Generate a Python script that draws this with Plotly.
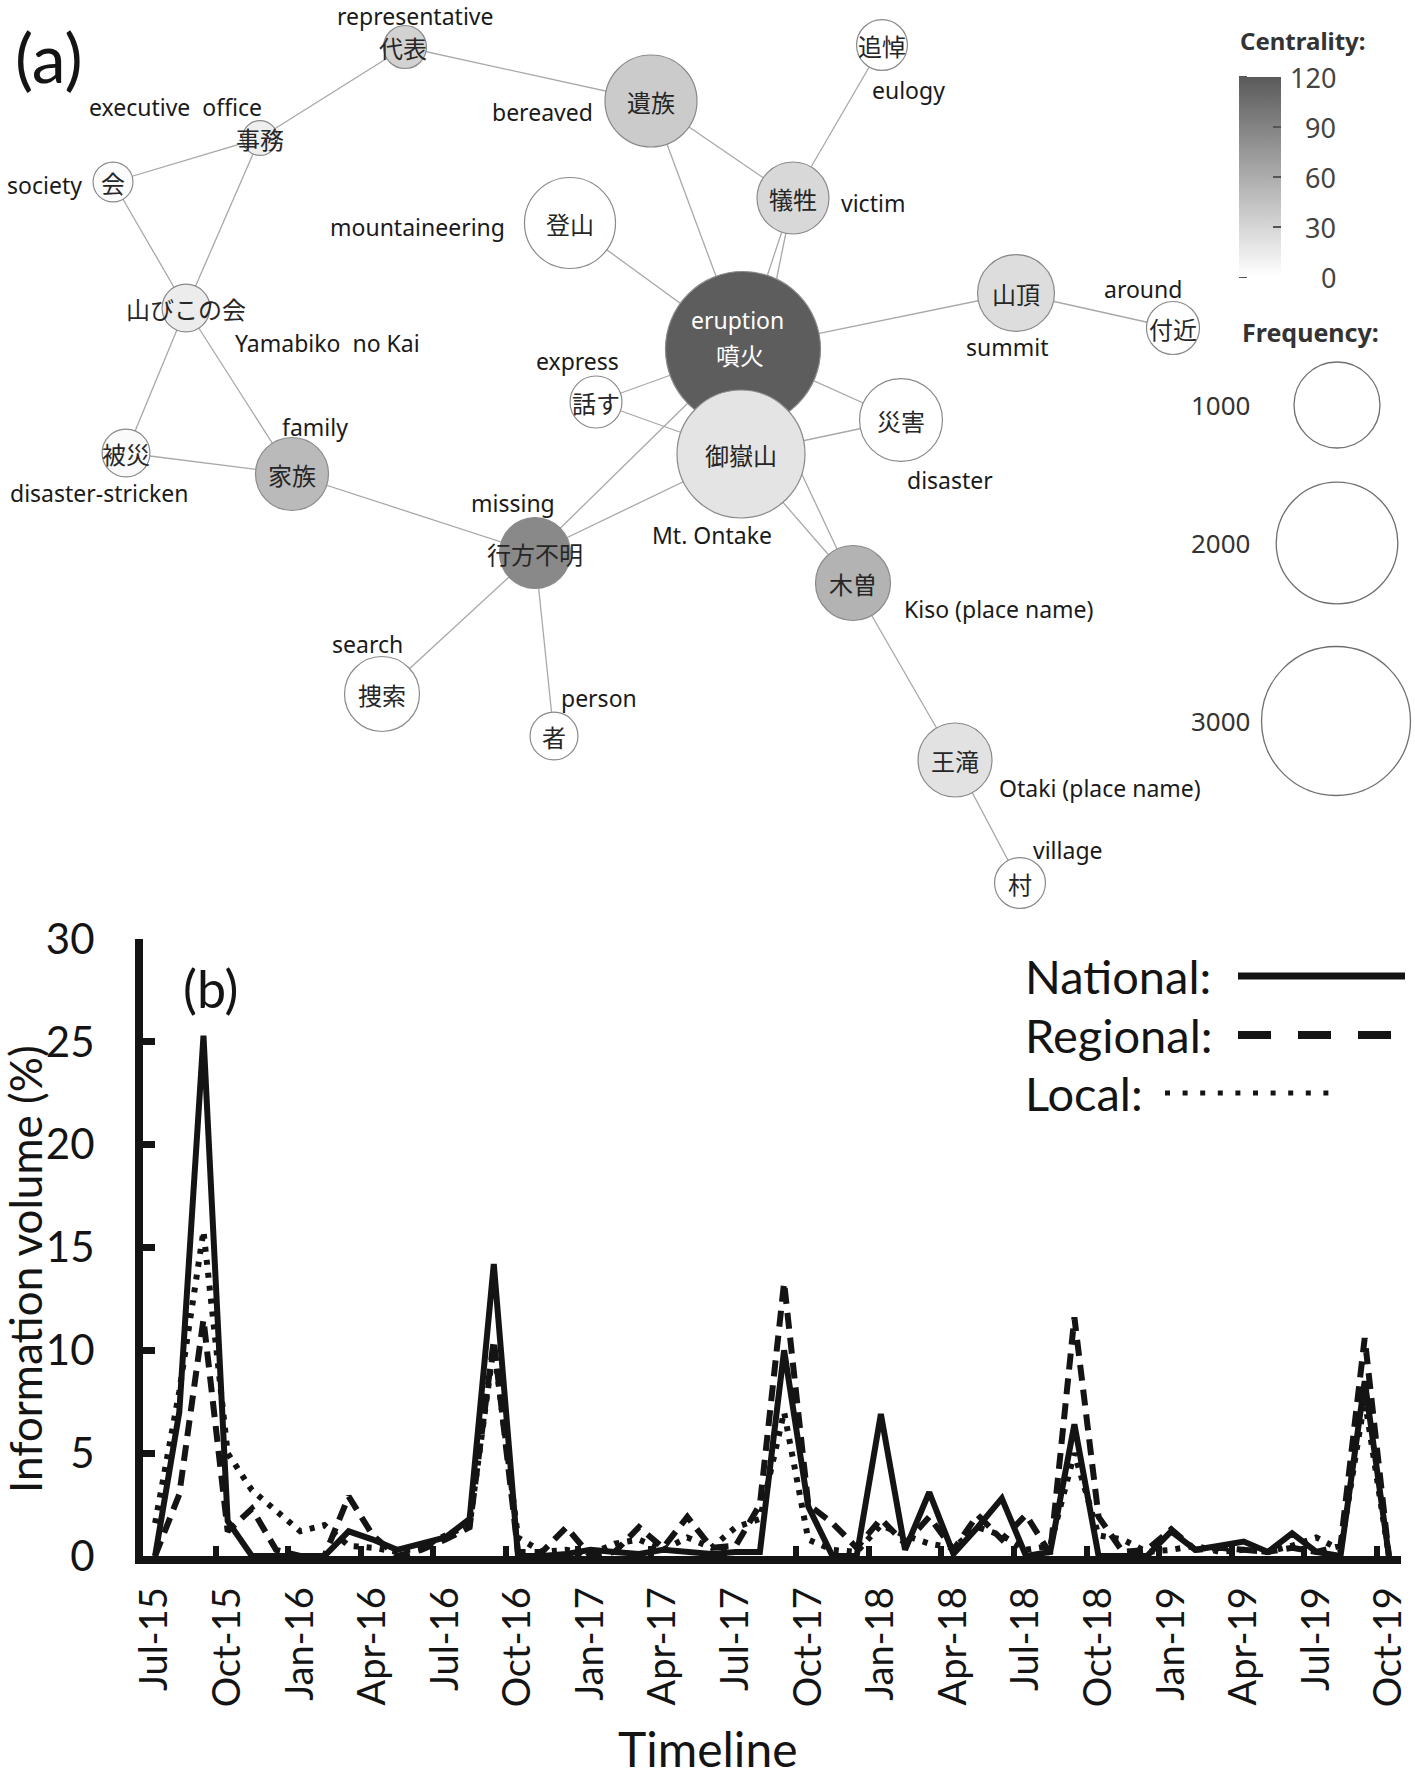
import plotly.graph_objects as go

W, H = 1415, 1780

# ---------------- Panel (b) data ----------------
months = ["Jul-15","Aug-15","Sep-15","Oct-15","Nov-15","Dec-15","Jan-16","Feb-16","Mar-16","Apr-16",
          "May-16","Jun-16","Jul-16","Aug-16","Sep-16","Oct-16","Nov-16","Dec-16","Jan-17","Feb-17",
          "Mar-17","Apr-17","May-17","Jun-17","Jul-17","Aug-17","Sep-17","Oct-17","Nov-17","Dec-17",
          "Jan-18","Feb-18","Mar-18","Apr-18","May-18","Jun-18","Jul-18","Aug-18","Sep-18","Oct-18",
          "Nov-18","Dec-18","Jan-19","Feb-19","Mar-19","Apr-19","May-19","Jun-19","Jul-19","Aug-19",
          "Sep-19","Oct-19"]
tick_labels = ["Jul-15","Oct-15","Jan-16","Apr-16","Jul-16","Oct-16","Jan-17","Apr-17","Jul-17",
               "Oct-17","Jan-18","Apr-18","Jul-18","Oct-18","Jan-19","Apr-19","Jul-19","Oct-19"]
national = [0, 7.0, 25.3, 1.7, 0, 0, 0, 0, 1.2, 0.8,
            0.3, 0.6, 0.9, 1.8, 14.2, 0, 0, 0.1, 0.3, 0.2,
            0.1, 0.3, 0.2, 0.1, 0.2, 0.2, 10.0, 2.4, 0, 0,
            6.9, 0.3, 3.1, 0.1, 1.4, 2.8, 0, 0.2, 6.4, 0,
            0, 0, 1.2, 0.3, 0.5, 0.7, 0.2, 1.1, 0.2, 0,
            8.5, 0]
regional = [0, 3.0, 11.5, 1.2, 2.3, 0.3, 0, 0, 2.9, 1.0,
            0, 0.3, 0.8, 1.4, 10.5, 0.2, 0.2, 1.4, 0, 0.2,
            1.4, 0.4, 1.9, 0.4, 0.5, 2.5, 13.3, 2.5, 1.6, 0.4,
            1.8, 0.6, 1.9, 0.3, 2.0, 0.8, 2.0, 0.1, 11.6, 1.9,
            0.2, 0.3, 1.3, 0.3, 0.4, 0.3, 0.2, 0.4, 0.2, 0.5,
            10.6, 0]
local = [1.6, 8.0, 15.8, 5.0, 3.2, 2.2, 1.2, 1.5, 0.5, 0.4,
         0.2, 0.4, 1.0, 1.5, 10.2, 0.9, 0.2, 0.3, 0.1, 0.6,
         0.8, 0.3, 0.9, 0.4, 1.4, 1.8, 7.0, 0.8, 0.3, 0.2,
         1.5, 1.0, 0.6, 0.4, 1.4, 1.0, 0.3, 0.5, 5.0, 1.0,
         0.8, 0.2, 0.3, 0.5, 0.2, 0.3, 0.2, 0.5, 0.9, 0.3,
         7.6, 0]
series_names = ["National:", "Regional:", "Local:"]
y_ticks = [0, 5, 10, 15, 20, 25, 30]

# ---------------- Panel (a) data ----------------
node_jp = ["噴火", "御嶽山", "遺族", "登山", "災害", "山頂", "捜索", "木曽", "王滝", "家族", "犠牲",
           "行方不明", "付近", "話す", "追悼", "村", "山びこの会", "被災", "者", "代表", "会", "事務"]
node_en = ["eruption", "Mt. Ontake", "bereaved", "mountaineering", "disaster", "summit", "search",
           "Kiso (place name)", "Otaki (place name)", "family", "victim", "missing", "around",
           "express", "eulogy", "village", "Yamabiko  no Kai", "disaster-stricken", "person",
           "representative", "society", "executive  office"]
frequency = [3250, 2215, 1145, 1120, 930, 800, 760, 760, 740, 720, 700,
             680, 380, 365, 350, 350, 310, 310, 310, 250, 215, 165]
centrality = [118, 20, 38, 0, 0, 25, 0, 55, 21, 50, 28,
              86, 0, 0, 0, 0, 14, 4, 0, 33, 2, 12]
edges = [("代表", "事務"), ("代表", "遺族"), ("事務", "会"), ("事務", "山びこの会"), ("会", "山びこの会"),
         ("山びこの会", "被災"), ("山びこの会", "家族"), ("被災", "家族"), ("家族", "行方不明"),
         ("行方不明", "捜索"), ("行方不明", "者"), ("行方不明", "噴火"), ("行方不明", "御嶽山"),
         ("遺族", "噴火"), ("遺族", "犠牲"), ("犠牲", "追悼"), ("犠牲", "噴火"), ("犠牲", "御嶽山"),
         ("登山", "噴火"), ("噴火", "山頂"), ("山頂", "付近"), ("話す", "噴火"), ("話す", "御嶽山"),
         ("噴火", "災害"), ("御嶽山", "災害"), ("御嶽山", "木曽"), ("噴火", "木曽"), ("木曽", "王滝"),
         ("王滝", "村"), ("噴火", "御嶽山")]
centrality_ticks = [0, 30, 60, 90, 120]
freq_legend = [1000, 2000, 3000]

# ---------------- layout (pixel positions in panel a) ----------------
node_xy = {"噴火": (743, 349), "御嶽山": (741, 454), "遺族": (651, 101), "登山": (570, 223),
           "災害": (901, 420), "山頂": (1016, 293), "捜索": (382, 694), "木曽": (853, 583),
           "王滝": (955, 760), "家族": (292, 474), "犠牲": (793, 198), "行方不明": (535, 553),
           "付近": (1173, 328), "話す": (596, 402), "追悼": (882, 45), "村": (1020, 883),
           "山びこの会": (186, 308), "被災": (126, 453), "者": (554, 736), "代表": (405, 47),
           "会": (113, 182), "事務": (260, 138)}
jp_text_xy = {"噴火": (740, 354), "代表": (403, 47)}
en_text_xy = {"eruption": (737, 320), "Mt. Ontake": (712, 535), "bereaved": (542, 112),
              "mountaineering": (417, 227), "disaster": (950, 480), "summit": (1007, 347),
              "search": (367, 644), "Kiso (place name)": (998, 609), "Otaki (place name)": (1100, 788),
              "family": (315, 427), "victim": (873, 203), "missing": (513, 503), "around": (1143, 289),
              "express": (577, 361), "eulogy": (908, 90), "village": (1068, 850),
              "Yamabiko  no Kai": (327, 343), "disaster-stricken": (99, 493), "person": (599, 698),
              "representative": (415, 16), "society": (44, 185), "executive  office": (175, 107)}
freq_legend_xy = [(1337, 405), (1337, 543), (1336, 721)]
PANEL_A_H = 915
D1000 = 86.0
sizeref = 2 * 1000 / D1000 ** 2
CB_LEFT, CB_W, CB_TOP, CB_BOT = 1239, 42, 77, 277

def px(x):
    return x / W

def py(y):
    return 1 - y / H

INK = "#141414"
fig = go.Figure()

# ---- panel (b) lines ----
styles = [dict(color=INK, width=6),
          dict(color=INK, width=6, dash="16px,9px"),
          dict(color=INK, width=6, dash="5px,8px")]
for name, vals, st in zip(series_names, [national, regional, local], styles):
    fig.add_trace(go.Scatter(x=months, y=vals, mode="lines", line=st, name=name,
                             xaxis="x", yaxis="y", hoverinfo="skip"))
fig.add_trace(go.Scatter(x=[], y=[], xaxis="x3", yaxis="y", hoverinfo="skip"))

# ---- panel (a) edges ----
ex, ey = [], []
for a, b in edges:
    ex += [node_xy[a][0], node_xy[b][0], None]
    ey += [node_xy[a][1], node_xy[b][1], None]
fig.add_trace(go.Scatter(x=ex, y=ey, mode="lines", line=dict(color="#a8a8a8", width=1.3),
                         xaxis="x2", yaxis="y2", hoverinfo="skip"))

# ---- panel (a) nodes ----
fig.add_trace(go.Scatter(
    x=[node_xy[n][0] for n in node_jp], y=[node_xy[n][1] for n in node_jp],
    mode="markers", xaxis="x2", yaxis="y2", cliponaxis=False, hoverinfo="skip",
    marker=dict(size=frequency, sizemode="area", sizeref=sizeref,
                color=centrality, cmin=0, cmax=120,
                colorscale=[[0, "#ffffff"], [1, "#5a5a5a"]],
                line=dict(color="#8a8a8a", width=1.2), opacity=1,
                showscale=True,
                colorbar=dict(x=px(CB_LEFT), xanchor="left", xpad=0, ypad=0,
                              y=py((CB_TOP + CB_BOT) / 2), yanchor="middle",
                              len=CB_BOT - CB_TOP, lenmode="pixels",
                              thickness=CB_W, thicknessmode="pixels", outlinewidth=0,
                              tickvals=centrality_ticks, ticks="inside", ticklen=8,
                              tickwidth=2, tickcolor="#555555", showticklabels=False))))

# frequency legend circles
fig.add_trace(go.Scatter(
    x=[p[0] for p in freq_legend_xy], y=[p[1] for p in freq_legend_xy],
    mode="markers", xaxis="x2", yaxis="y2", cliponaxis=False, hoverinfo="skip",
    marker=dict(size=freq_legend, sizemode="area", sizeref=sizeref, color="white",
                line=dict(color="#333333", width=1.3))))

ann = []
JPF = "Noto Sans CJK JP"
ENF = "Noto Sans"
C = dict(xanchor="center", yanchor="middle", showarrow=False)
for n in node_jp:
    x, y = jp_text_xy.get(n, node_xy[n])
    ann.append(dict(x=x, y=y, xref="x2", yref="y2", text=n, **C,
                    font=dict(family=JPF, size=24, color="white" if n == "噴火" else "#262626")))
for n in node_en:
    x, y = en_text_xy[n]
    ann.append(dict(x=x, y=y, xref="x2", yref="y2", text=n, **C,
                    font=dict(family=ENF, size=23, color="white" if n == "eruption" else "#1a1a1a")))
ann.append(dict(x=49, y=56, xref="x2", yref="y2", text="(a)", **C,
                font=dict(family="Lato", size=68, color=INK)))
ann.append(dict(x=1303, y=40, xref="x2", yref="y2", text="<b>Centrality:</b>", **C,
                font=dict(family=ENF, size=24, color="#333333")))
ann.append(dict(x=1310, y=332, xref="x2", yref="y2", text="<b>Frequency:</b>", **C,
                font=dict(family=ENF, size=25, color="#333333")))
shapes = []
for v in centrality_ticks:
    yv = CB_BOT - v * (CB_BOT - CB_TOP) / 120
    ann.append(dict(x=1338, y=yv, xref="x2", yref="y2", text=str(v),
                    showarrow=False, xanchor="right", yanchor="middle",
                    font=dict(family=ENF, size=27, color="#444444")))
    shapes.append(dict(type="line", xref="x2", yref="y2", x0=CB_LEFT, x1=CB_LEFT + 8, y0=yv, y1=yv,
                       line=dict(color="#555555", width=2)))
for v, (cx, cy) in zip(freq_legend, freq_legend_xy):
    ann.append(dict(x=1253, y=cy, xref="x2", yref="y2", text=str(v), showarrow=False,
                    xanchor="right", yanchor="middle",
                    font=dict(family=ENF, size=26, color="#333333")))

# ---- panel (b) text ----
LF = "Lato"
ann.append(dict(x=px(211), y=py(988), xref="paper", yref="paper", text="(b)", **C,
                font=dict(family=LF, size=52, color=INK)))
ann.append(dict(x=px(25), y=py(1269), xref="paper", yref="paper", text="Information volume (%)",
                textangle=-90, **C, font=dict(family=LF, size=44, color=INK)))
ann.append(dict(x=px(708), y=py(1748), xref="paper", yref="paper", text="Timeline", **C,
                font=dict(family=LF, size=48, color=INK)))
leg_y = [976, 1035, 1093]
for name, yy in zip(series_names, leg_y):
    ann.append(dict(x=px(1023), y=py(yy), xref="paper", yref="paper", text=name, xanchor="left",
                    yanchor="middle", showarrow=False, font=dict(family=LF, size=47, color=INK)))

shapes += [
    dict(type="line", xref="paper", yref="paper", x0=px(1238), x1=px(1405), y0=py(976), y1=py(976),
         line=dict(color=INK, width=7)),
    dict(type="line", xref="paper", yref="paper", x0=px(1238), x1=px(1392), y0=py(1035), y1=py(1035),
         line=dict(color=INK, width=8, dash="33px,27px")),
    dict(type="line", xref="paper", yref="paper", x0=px(1165), x1=px(1330), y0=py(1093), y1=py(1093),
         line=dict(color=INK, width=5, dash="5px,12.6px")),
]

fig.update_layout(
    width=W, height=H, margin=dict(l=0, r=0, t=0, b=0, autoexpand=False),
    paper_bgcolor="white", plot_bgcolor="rgba(0,0,0,0)", showlegend=False,
    annotations=ann, shapes=shapes,
    xaxis=dict(domain=[px(143), px(1401)], type="category", categoryorder="array",
               categoryarray=months, range=[-0.5, 51.5], tickmode="array",
               tickvals=tick_labels, ticktext=tick_labels, tickangle=-90, ticks="",
               showline=True, linewidth=8, linecolor=INK, showgrid=False, zeroline=False,
               tickfont=dict(family=LF, size=38, color=INK), ticklabelstandoff=8,
               anchor="y", fixedrange=True, automargin=False),
    xaxis3=dict(overlaying="x", anchor="y", side="bottom", range=[-0.5, 51.5], tickmode="linear",
                tick0=2.5, dtick=3, ticks="inside", ticklen=10, tickwidth=6, tickcolor=INK,
                showticklabels=False, showline=False, showgrid=False, zeroline=False,
                fixedrange=True, automargin=False),
    yaxis=dict(domain=[py(1556), py(939)], range=[0, 30], tickmode="array", tickvals=y_ticks,
               ticks="inside", ticklen=12, tickwidth=7, tickcolor=INK, showline=True,
               linewidth=8, linecolor=INK, showgrid=False, zeroline=False,
               tickfont=dict(family=LF, size=42, color=INK), ticklabelstandoff=32,
               anchor="x", fixedrange=True, automargin=False),
    xaxis2=dict(domain=[0, 1], range=[0, W], visible=False, anchor="y2", fixedrange=True),
    yaxis2=dict(domain=[py(PANEL_A_H), 1], range=[PANEL_A_H, 0], visible=False, anchor="x2",
                fixedrange=True),
)

fig.write_html("out.html", config={"displayModeBar": False},
               post_script="document.body.style.margin='0px';")
